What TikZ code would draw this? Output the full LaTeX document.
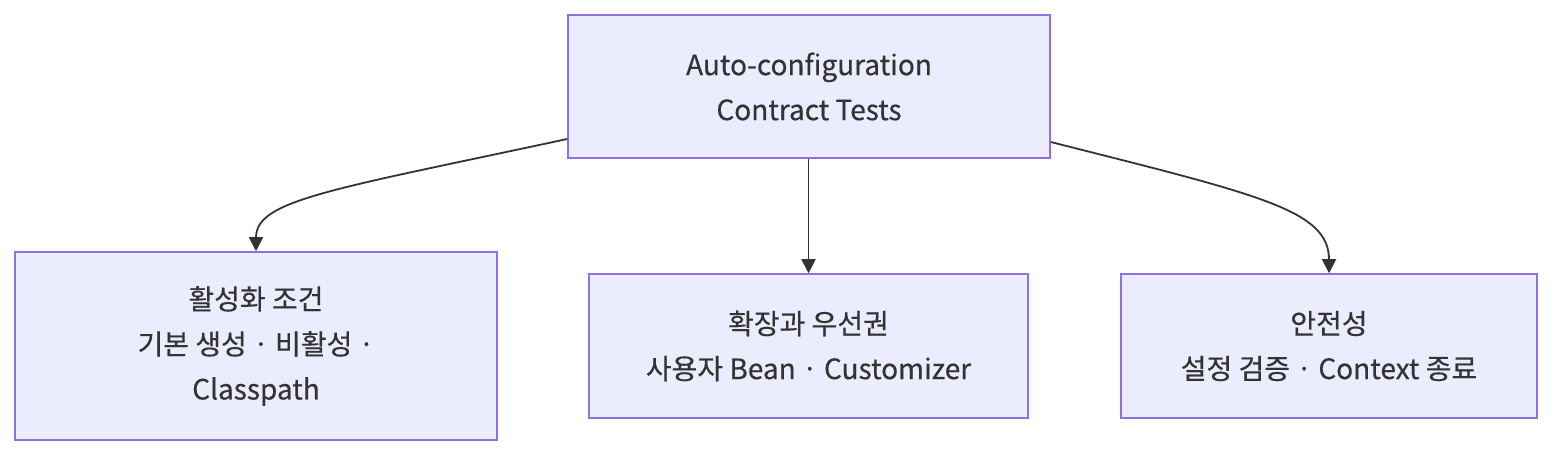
\documentclass[tikz,border=0pt]{standalone}
\usepackage{fontspec}
\setmainfont{Noto Sans CJK KR}[UprightFeatures={FakeBold=0.4}]
\usetikzlibrary{arrows.meta}
\definecolor{boxfill}{HTML}{ECECFF}
\definecolor{boxline}{HTML}{9370DB}
\definecolor{ink}{HTML}{333333}
\tikzset{
  box/.style={draw=boxline, fill=boxfill, line width=1.5pt, inner sep=0pt, align=center,
    text=ink, font=\fontsize{28}{45}\selectfont},
  conn/.style={draw=ink, line width=1.8pt, -{Triangle[length=14pt,width=14pt]}}
}
\begin{document}
\begin{tikzpicture}[x=1pt,y=-1pt]
\useasboundingbox (0,0) rectangle (1568,462);
\node[box, minimum width=482pt, minimum height=143pt] (top) at (809,86.5) {Auto-configuration\\Contract Tests};
\node[box, minimum width=482pt, minimum height=188pt] (left) at (256,346) {활성화 조건\\기본 생성 · 비활성 ·\\Classpath};
\node[box, minimum width=439pt, minimum height=144pt] (mid) at (808.5,346) {확장과 우선권\\사용자 Bean · Customizer};
\node[box, minimum width=416pt, minimum height=144pt] (right) at (1329,346) {안전성\\설정 검증 · Context 종료};
\draw[conn] (top.west |- 0,139) .. controls (330,190) and (256,200) .. (left.north);
\draw[conn] (top.south -| mid.north) -- (mid.north);
\draw[conn] (top.east |- 0,142) .. controls (1260,195) and (1329,210) .. (right.north);
\end{tikzpicture}
\end{document}
